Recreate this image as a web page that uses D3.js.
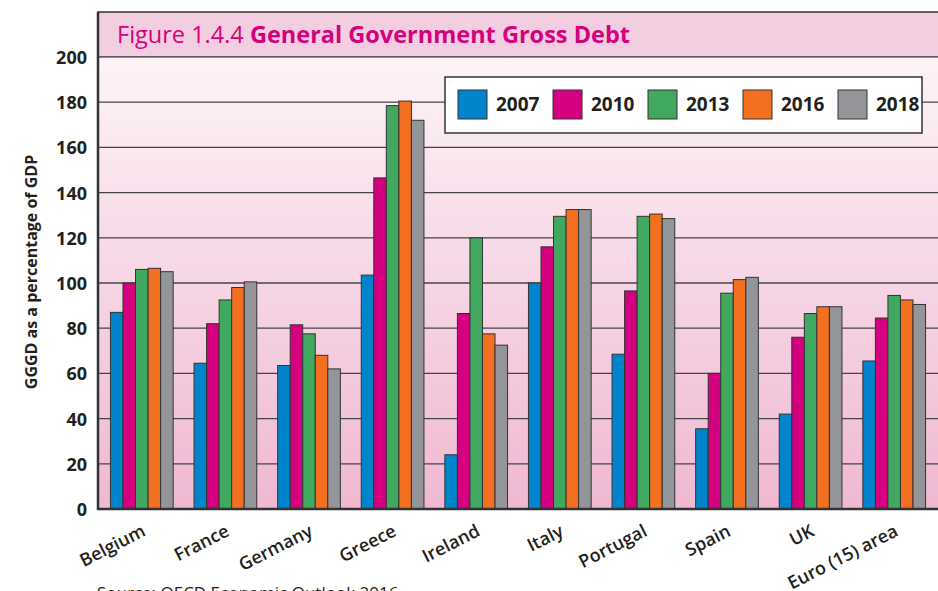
<!DOCTYPE html>
<html>
<head>
<meta charset="utf-8">
<script src="https://d3js.org/d3.v7.min.js"></script>
<style>
body { margin: 0; background: #fff; }
svg { display: block; font-family: 'Open Sans', 'Noto Sans', sans-serif; }
</style>
</head>
<body>
<div id="chart"></div>
<script>
var width = 938, height = 591;

var countries = ["Belgium", "France", "Germany", "Greece", "Ireland", "Italy", "Portugal", "Spain", "UK", "Euro (15) area"];
var years = ["2007", "2010", "2013", "2016", "2018"];
var colors = ["#0085cc", "#d5007f", "#41a85f", "#f37021", "#939598"];

// GGGD % of GDP, one array per year
var v2007 = [87, 64.5, 63.5, 103.5, 24, 100, 68.5, 35.5, 42, 65.5];
var v2010 = [100, 82, 81.5, 146.5, 86.5, 116, 96.5, 60, 76, 84.5];
var v2013 = [106, 92.5, 77.5, 178.5, 120, 129.5, 129.5, 95.5, 86.5, 94.5];
var v2016 = [106.5, 98, 68, 180.5, 77.5, 132.5, 130.5, 101.5, 89.5, 92.5];
var v2018 = [105, 100.5, 62, 172, 72.5, 132.5, 128.5, 102.5, 89.5, 90.5];
var series = [v2007, v2010, v2013, v2016, v2018];
var yTicks = [0, 20, 40, 60, 80, 100, 120, 140, 160, 180, 200];

var plot = { left: 98, top: 12, bottom: 509 };

var svg = d3.select("#chart").append("svg").attr("width", width).attr("height", height);

var x = d3.scaleBand().domain(countries).range([100, 936]).paddingInner(0.25).paddingOuter(0.125);
var xs = d3.scaleBand().domain(years).range([0, x.bandwidth()]);
var y = d3.scaleLinear().domain([0, 200]).range([plot.bottom, 57]);

var grad = svg.append("defs").append("linearGradient").attr("id", "bg")
  .attr("x1", 0).attr("y1", 0).attr("x2", 0).attr("y2", 1);
grad.append("stop").attr("offset", "0%").attr("stop-color", "#fdf3f7");
grad.append("stop").attr("offset", "100%").attr("stop-color", "#efb8d2");

// title band and plot background
svg.append("rect").attr("x", plot.left).attr("y", plot.top).attr("width", width).attr("height", y(200) - plot.top)
  .attr("fill", "#f3cde0").attr("stroke", "#333").attr("stroke-width", 1.5);
svg.append("rect").attr("x", plot.left).attr("y", y(200) + 0.75).attr("width", width).attr("height", plot.bottom - y(200))
  .attr("fill", "url(#bg)");

var title = svg.append("text").attr("x", 117).attr("y", 43).attr("fill", "#d4007d").style("font-size", "23.5px");
title.append("tspan").text("Figure 1.4.4 ");
title.append("tspan").style("font-weight", "bold").text("General Government Gross Debt");

// gridlines
svg.append("g").selectAll("line").data(yTicks.slice(1, -1)).enter().append("line")
  .attr("x1", plot.left).attr("x2", width)
  .attr("y1", function(d) { return y(d); }).attr("y2", function(d) { return y(d); })
  .attr("stroke", "#444").attr("stroke-width", 1.3);

// y tick labels
svg.append("g").selectAll("text").data(yTicks).enter().append("text")
  .attr("x", 87).attr("y", function(d) { return y(d) + 7; })
  .attr("text-anchor", "end").style("font-size", "18px").style("font-weight", "bold").attr("fill", "#231f20")
  .text(function(d) { return d; });

svg.append("text").attr("transform", "translate(37,272) rotate(-90)")
  .attr("text-anchor", "middle").style("font-size", "16px").style("font-weight", "bold").attr("fill", "#231f20")
  .text("GGGD as a percentage of GDP");

// bars
series.forEach(function(vals, i) {
  svg.append("g").selectAll("rect").data(vals).enter().append("rect")
    .attr("x", function(d, j) { return x(countries[j]) + xs(years[i]); })
    .attr("y", function(d) { return y(d); })
    .attr("width", xs.bandwidth())
    .attr("height", function(d) { return y(0) - y(d); })
    .attr("fill", colors[i]).attr("stroke", "#333").attr("stroke-width", 1);
});

// axis lines
svg.append("line").attr("x1", plot.left).attr("x2", plot.left).attr("y1", plot.top).attr("y2", plot.bottom + 1)
  .attr("stroke", "#333").attr("stroke-width", 2.5);
svg.append("line").attr("x1", plot.left - 1).attr("x2", width).attr("y1", plot.bottom).attr("y2", plot.bottom)
  .attr("stroke", "#333").attr("stroke-width", 2.5);

// x labels
svg.append("g").selectAll("text").data(countries).enter().append("text")
  .attr("transform", function(d) { return "translate(" + (x(d) + x.bandwidth() / 2 + 5) + ",535) rotate(-27)"; })
  .attr("text-anchor", "end").style("font-size", "18px").style("font-weight", "600").attr("fill", "#231f20")
  .text(function(d) { return d; });

// legend
var legend = svg.append("g");
legend.append("rect").attr("x", 445).attr("y", 77).attr("width", 477).attr("height", 56)
  .attr("fill", "#fff").attr("stroke", "#333").attr("stroke-width", 1.5);
years.forEach(function(yr, i) {
  legend.append("rect").attr("x", 458 + i * 95).attr("y", 90).attr("width", 29).attr("height", 29)
    .attr("fill", colors[i]).attr("stroke", "#333").attr("stroke-width", 1);
  legend.append("text").attr("x", 496 + i * 95).attr("y", 111)
    .style("font-size", "19px").style("font-weight", "bold").attr("fill", "#231f20").text(yr);
});

svg.append("text").attr("x", 97).attr("y", 599).style("font-size", "17px").attr("fill", "#231f20")
  .text("Source: OECD Economic Outlook 2016");
</script>
</body>
</html>
